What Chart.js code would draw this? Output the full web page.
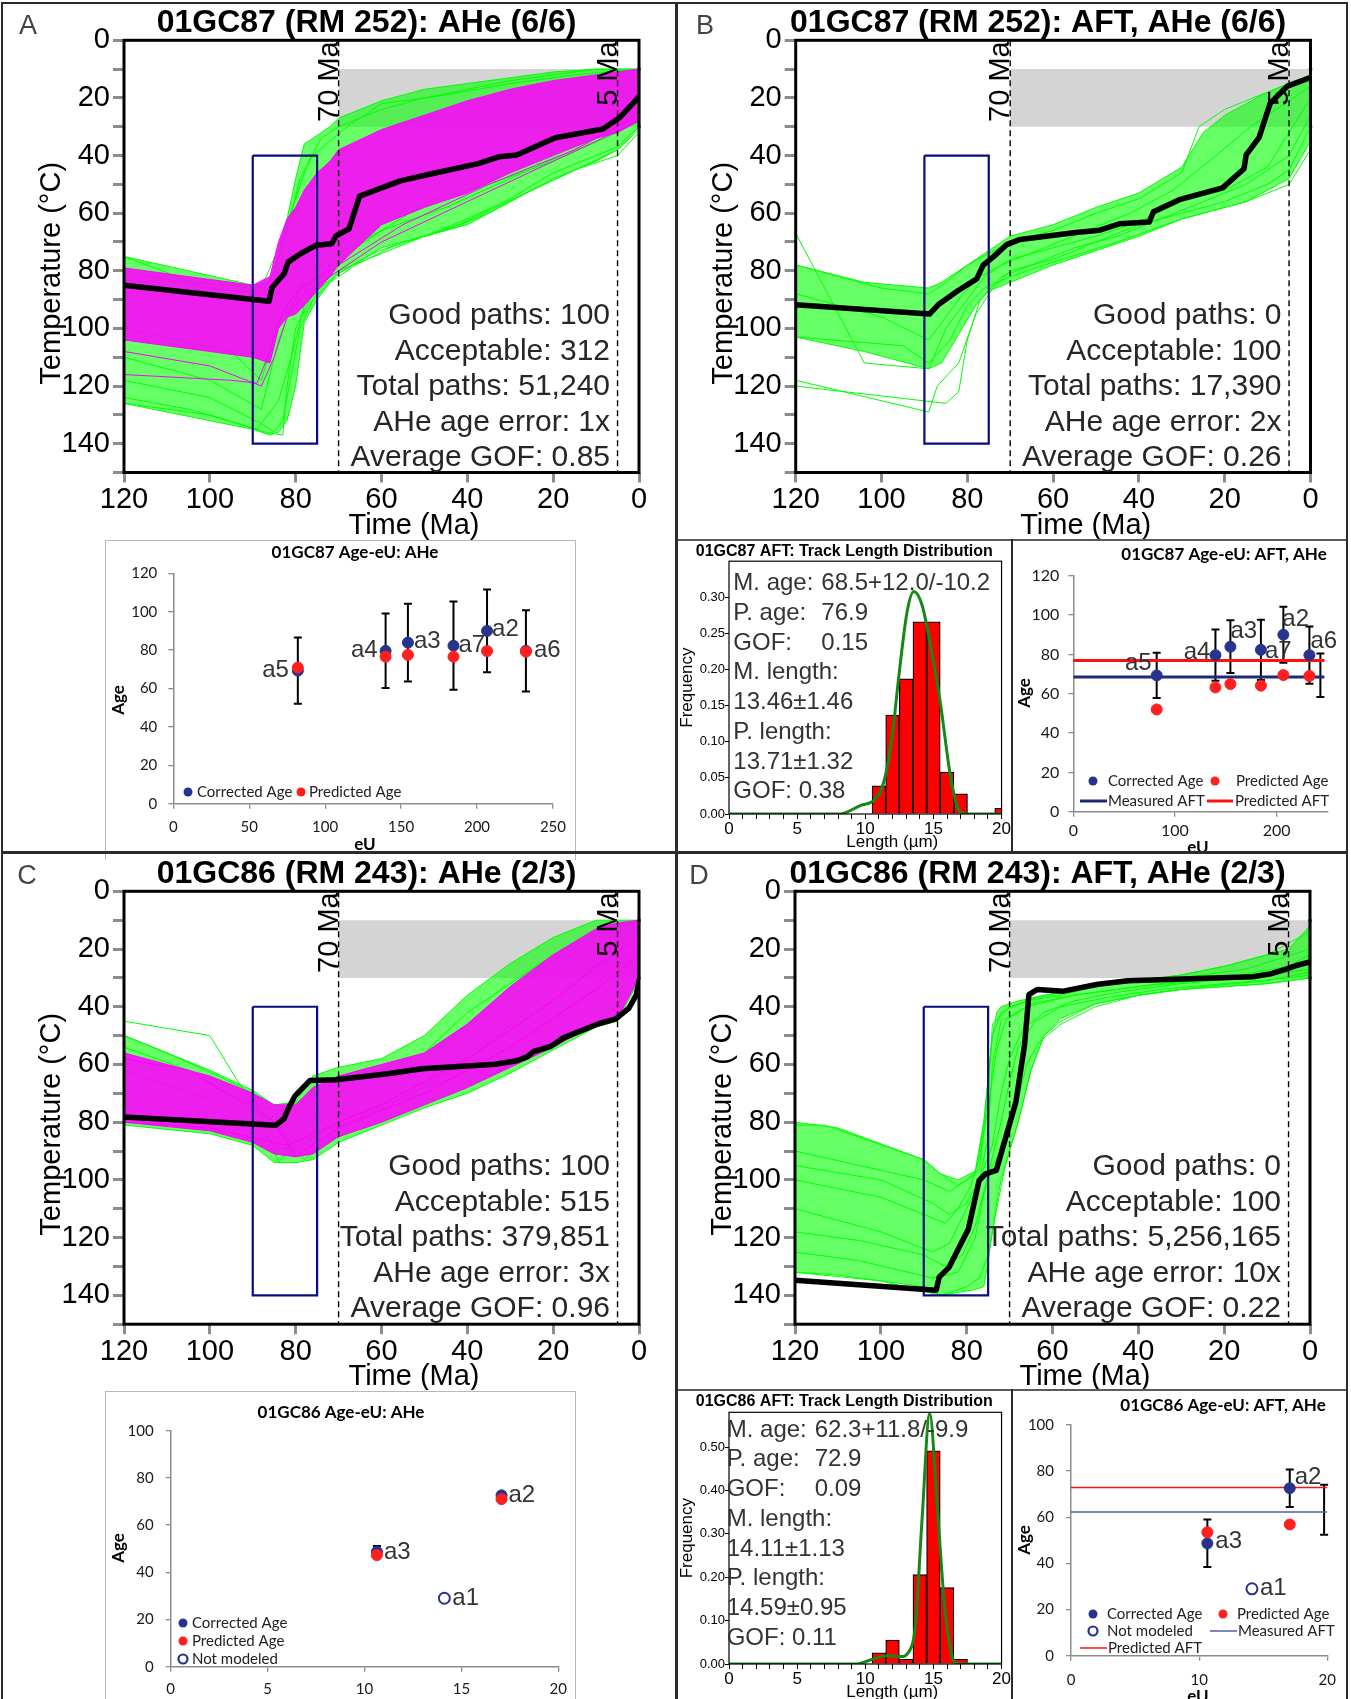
<!DOCTYPE html>
<html>
<head>
<meta charset="utf-8">
<title>01GC87 / 01GC86 thermal histories</title>
<script src="https://cdn.jsdelivr.net/npm/chart.js@4.4.1/dist/chart.umd.min.js"></script>
<style>
  body { margin: 0; background: #fff; }
  #page { position: relative; width: 1351px; height: 1699px; overflow: hidden; background: #fff; }
  canvas { position: absolute; }
  .rule { position: absolute; background: #2b2b2b; }
  .thin { position: absolute; background: #5a5a5a; }
  .frame { position: absolute; border: 1.5px solid #b9b9b9; border-bottom: none; box-sizing: border-box; }
</style>
</head>
<body>
<div id="page">
  <canvas id="tA" width="676" height="541" style="left:0;top:0"></canvas>
  <canvas id="tB" width="668" height="541" style="left:678px;top:0"></canvas>
  <canvas id="tC" width="676" height="536" style="left:0;top:854px"></canvas>
  <canvas id="tD" width="668" height="536" style="left:678px;top:854px"></canvas>
  <canvas id="eA" width="469" height="310" style="left:106px;top:541px"></canvas>
  <canvas id="hB" width="332" height="310" style="left:679px;top:541px"></canvas>
  <canvas id="eB" width="332" height="310" style="left:1014px;top:541px"></canvas>
  <canvas id="eC" width="469" height="307" style="left:106px;top:1392px"></canvas>
  <canvas id="hD" width="332" height="308" style="left:679px;top:1391px"></canvas>
  <canvas id="eD" width="332" height="308" style="left:1014px;top:1391px"></canvas>

  <div class="frame" style="left:105px;top:540px;width:471px;height:320px"></div>
  <div class="frame" style="left:105px;top:1391px;width:471px;height:320px"></div>
  <div class="thin" style="left:678px;top:539px;width:669px;height:1.5px"></div>
  <div class="thin" style="left:678px;top:1389px;width:669px;height:1.5px"></div>
  <div class="rule" style="left:1011px;top:539px;width:2px;height:313px"></div>
  <div class="rule" style="left:1011px;top:1389px;width:2px;height:310px"></div>
  <div class="rule" style="left:1px;top:2px;width:1347px;height:2px"></div>
  <div class="rule" style="left:1px;top:2px;width:2px;height:1697px"></div>
  <div class="rule" style="left:1346px;top:2px;width:2px;height:1697px"></div>
  <div class="rule" style="left:675px;top:2px;width:3px;height:1697px"></div>
  <div class="rule" style="left:1px;top:851px;width:1347px;height:3px"></div>
</div>
<script>
// ---- constraints shared by the four HeFTy runs ----
const boxTime = [90, 75];
const boxTemp = [40, 140];
const constraintTime = [70, 0];
const constraintTemp = [10, 30];
const markerTimes = [70, 5];
const markerLabels = ['70 Ma', '5 Ma'];

// ---- A: 01GC87 AHe (time Ma -> temperature °C) ----
const aTime    = [120, 90, 86, 84, 82, 80, 78, 75, 72, 70, 60, 50, 40, 30, 20, 10, 5, 0];
const aGreenHi = [75, 85, 84, 75, 62, 48, 36, 33, 30, 27, 21, 17, 15, 13, 11, 10, 10, 10];
const aGreenLo = [126, 135, 137, 136, 132, 120, 98, 90, 84, 81, 72, 68, 64, 56, 48, 42, 38, 30];
const aPinkHi  = [79, 85, 82, 70, 62, 58, 52, 46, 42, 38, 31, 26, 21, 17, 14, 12, 11, 10];
const aPinkLo  = [104, 110, 112, 100, 96, 95, 92, 87, 82, 78, 64, 58, 53, 46, 40, 34, 32, 28];
const aBest = [[120, 85], [86.2, 90.6], [85.5, 85.8], [82.7, 81], [81.7, 76.9], [78.7, 73.9], [75.2, 71.1],
  [71.6, 70.6], [70.6, 67.9], [67.6, 65.5], [65.1, 54.1], [55.6, 48.8], [48.6, 46.4], [37.5, 42.8],
  [32.5, 40.4], [28.5, 39.8], [19.5, 33.8], [8.4, 30.8], [4.4, 26.7], [1.4, 21.9], [0, 19.5]];
const aGreenPaths = [
  [[120, 75], [104, 84], [88, 86], [84, 72], [80, 55], [77, 42], [74, 34], [70, 30], [60, 24], [50, 20], [40, 17], [30, 14], [20, 12], [10, 10], [0, 10]],
  [[120, 124], [105, 128], [89, 135], [84, 125], [81, 110], [78, 92], [75, 85], [70, 80], [60, 74], [50, 68], [40, 62], [30, 55], [20, 46], [10, 40], [5, 37], [0, 30]],
  [[120, 126], [100, 130], [87, 136], [83, 137], [82, 120], [80, 100], [76, 88], [70, 81], [62, 74], [55, 70], [45, 66], [35, 60], [25, 52], [15, 45], [5, 40], [0, 32]],
  [[120, 100], [95, 108], [88, 118], [84, 98], [80, 90], [72, 78], [60, 66], [45, 58], [30, 48], [15, 38], [0, 25]],
  [[120, 110], [100, 118], [88, 128], [84, 104], [78, 82], [70, 74], [60, 66], [48, 55], [35, 50], [20, 42], [8, 34], [0, 28]],
  [[120, 80], [100, 86], [88, 88], [85, 80], [82, 66], [79, 48], [76, 40], [72, 35], [68, 30], [60, 22], [45, 19], [30, 15], [15, 12], [0, 10]],
  [[120, 118], [100, 124], [88, 133], [85, 136], [83, 132], [81, 116], [79, 100], [76, 90], [72, 84], [66, 78], [58, 72], [50, 68], [42, 64], [32, 57], [22, 50], [12, 43], [5, 38], [0, 31]]
];
const aPinkPaths = [
  [[120, 108], [100, 113], [88, 120], [85, 110], [82, 96], [78, 88], [72, 82], [60, 70], [40, 56], [20, 42], [0, 28]],
  [[120, 116], [95, 118], [89, 119], [86, 108], [83, 94], [79, 86], [70, 78], [55, 64], [35, 50], [15, 38], [0, 26]]
];
const aStats = ['Good paths: 100', 'Acceptable: 312', 'Total paths: 51,240', 'AHe age error: 1x', 'Average GOF: 0.85'];

// ---- B: 01GC87 AFT + AHe ----
const bTime    = [120, 104, 89, 86, 82, 78, 75, 70, 60, 50, 40, 30, 25, 20, 15, 10, 5, 0];
const bGreenHi = [78, 84, 86, 84, 80, 76, 73, 68, 64, 58, 53, 44, 32, 26, 22, 18, 15, 12];
const bGreenLo = [103, 108, 114, 112, 102, 92, 87, 84, 78, 73, 68, 62, 60, 58, 56, 52, 48, 35];
const bBest = [[120, 91.8], [88.8, 95], [86.8, 91.8], [82.3, 87], [77.8, 82.8], [76.3, 78], [73.8, 75],
  [70.8, 70.9], [67.7, 69.1], [54.7, 66.7], [49.1, 65.9], [44.6, 63.7], [37.6, 63.1], [36.6, 59.5],
  [30.6, 55.3], [20.5, 51.2], [15.5, 44.6], [15, 39.8], [12, 33.8], [9.4, 21.9], [5.4, 15.9], [0, 12.9]];
const bGreenPaths = [
  [[120, 67], [104, 112], [89, 114], [85, 100], [80, 90], [76, 82], [70, 76], [60, 72], [50, 68], [40, 63], [30, 56], [20, 52], [10, 44], [0, 20]],
  [[120, 118], [89, 129], [87, 120], [82, 112], [78, 95], [74, 86], [70, 80], [60, 76], [50, 70], [40, 64], [30, 60], [20, 56], [10, 50], [5, 45], [0, 30]],
  [[120, 120], [85, 126], [82, 122], [80, 104], [77, 90], [72, 82], [65, 78], [55, 72], [45, 68], [35, 62], [25, 56], [15, 50], [5, 40], [0, 26]],
  [[120, 78], [100, 86], [89, 88], [85, 84], [80, 78], [75, 74], [70, 70], [60, 66], [50, 60], [40, 55], [30, 46], [26, 30], [20, 24], [10, 18], [0, 12]],
  [[120, 103], [95, 106], [89, 112], [84, 104], [80, 92], [76, 86], [70, 82], [60, 77], [45, 70], [30, 62], [15, 56], [5, 50], [0, 38]],
  [[120, 88], [100, 96], [89, 104], [85, 96], [81, 88], [77, 82], [72, 78], [62, 72], [52, 66], [42, 60], [32, 52], [22, 40], [14, 30], [6, 22], [0, 16]]
];
const bStats = ['Good paths: 0', 'Acceptable: 100', 'Total paths: 17,390', 'AHe age error: 2x', 'Average GOF: 0.26'];

// ---- C: 01GC86 AHe ----
const cTime    = [120, 100, 90, 85, 80, 76, 70, 60, 50, 40, 30, 20, 10, 5, 0];
const cGreenHi = [50, 62, 69, 74, 73, 64, 61, 58, 50, 36, 25, 16, 10, 10, 10];
const cGreenLo = [81, 84, 88, 94, 94, 93, 87, 81, 75, 70, 63, 55, 47, 45, 31];
const cPinkHi  = [56, 64, 70, 74, 74, 68, 64, 60, 56, 46, 33, 22, 13, 11, 10];
const cPinkLo  = [80, 83, 87, 91, 92, 91, 85, 80, 74, 68, 61, 54, 46, 44, 30];
const cBest = [[120, 78.2], [84.7, 81.1], [82.7, 78.8], [81.5, 74.6], [80.2, 71], [76.7, 65.6], [70.6, 65.3],
  [58.6, 63.2], [50.6, 61.5], [33.5, 59.9], [28.5, 58.7], [26, 57.3], [24.5, 55.5], [20.5, 53.7],
  [17.5, 50.7], [9.4, 45.9], [5.4, 44.2], [2.4, 40.6], [0.6, 35.8], [0, 31]];
const cGreenPaths = [
  [[120, 45], [100, 50], [93, 67], [88, 75], [83, 76], [76, 70], [70, 66], [60, 62], [50, 56], [40, 42], [30, 32], [20, 22], [10, 15], [0, 10]],
  [[120, 54], [105, 62], [92, 74], [85, 80], [78, 93], [72, 86], [60, 80], [50, 74], [40, 68], [30, 60], [20, 52], [10, 46], [0, 32]],
  [[120, 50], [110, 56], [98, 64], [90, 70], [84, 94], [80, 86], [76, 78], [70, 72], [60, 66], [50, 58], [40, 46], [30, 34], [20, 24], [10, 16], [0, 12]],
  [[120, 62], [100, 72], [90, 80], [85, 88], [80, 90], [75, 84], [68, 80], [58, 74], [48, 66], [38, 56], [28, 44], [18, 30], [8, 20], [0, 14]]
];
const cPinkPaths = [
  [[120, 58], [105, 62], [96, 70], [90, 74], [85, 80], [80, 92], [76, 88], [70, 82], [60, 76], [50, 70], [40, 62], [30, 54], [20, 44], [10, 34], [0, 22]],
  [[120, 80], [100, 82], [88, 86], [82, 88], [76, 84], [70, 80], [60, 74], [50, 66], [40, 58], [30, 48], [20, 38], [10, 26], [0, 16]]
];
const cStats = ['Good paths: 100', 'Acceptable: 515', 'Total paths: 379,851', 'AHe age error: 3x', 'Average GOF: 0.96'];

// ---- D: 01GC86 AFT + AHe ----
const dTime    = [120, 110, 90, 86, 82, 78, 76, 75, 74, 73, 72, 70, 68, 65, 62, 58, 50, 40, 30, 20, 10, 5, 0];
const dGreenHi = [80, 82, 93, 98, 100, 97, 80, 65, 50, 42, 40, 39, 38, 37, 36, 35, 33, 31, 29, 26, 22, 20, 12];
const dGreenLo = [132, 133, 137, 140, 139, 138, 137, 128, 118, 108, 100, 90, 80, 62, 50, 44, 39, 36, 34, 33, 32, 31, 30];
const dBest = [[120, 134.8], [87.1, 138.2], [86.4, 133.7], [84.1, 130.3], [79.6, 117], [77.1, 100.2], [75.6, 97.9],
  [73.1, 96.7], [68.5, 72.8], [66.5, 53.1], [65.5, 35.8], [63.5, 34], [57.5, 34.6], [49.4, 32.2], [42.4, 31],
  [13.3, 29.6], [9.2, 28.6], [5.2, 26.8], [3.2, 25.7], [0, 24.5]];
const dGreenPaths = [
  [[120, 81], [113, 81], [90, 93], [86, 98], [82, 102], [78, 98], [76, 80], [74, 50], [72, 42], [66, 38], [58, 36], [50, 33], [40, 31], [30, 29], [20, 26], [10, 22], [0, 14]],
  [[120, 132], [100, 135], [86, 140], [80, 137], [77, 134], [75, 126], [73, 110], [71, 95], [68, 80], [65, 62], [62, 50], [58, 45], [50, 39], [40, 36], [30, 34], [20, 33], [10, 32], [0, 30]],
  [[120, 90], [105, 95], [90, 100], [84, 104], [80, 100], [77, 96], [75, 70], [74, 46], [70, 40], [64, 37], [55, 34], [45, 32], [30, 30], [15, 27], [0, 20]],
  [[120, 110], [100, 118], [88, 125], [84, 122], [80, 110], [78, 104], [76, 96], [74, 88], [72, 70], [70, 58], [67, 48], [62, 42], [55, 38], [45, 35], [30, 32], [15, 30], [0, 27]],
  [[120, 125], [105, 128], [88, 134], [82, 132], [78, 120], [76, 105], [74, 95], [72, 90], [70, 82], [68, 72], [66, 60], [63, 52], [58, 46], [50, 40], [40, 36], [25, 33], [10, 31], [0, 28]],
  [[120, 100], [100, 106], [90, 112], [85, 115], [82, 110], [79, 102], [77, 92], [75, 75], [73, 55], [71, 45], [65, 39], [55, 36], [45, 34], [35, 32], [20, 30], [5, 26], [0, 22]],
  [[120, 95], [100, 100], [88, 108], [84, 112], [80, 108], [77, 100], [75, 85], [74, 60], [72, 45], [66, 40], [55, 36], [40, 33], [25, 31], [10, 29], [0, 25]],
  [[120, 118], [105, 121], [90, 126], [85, 130], [81, 126], [78, 116], [76, 104], [74, 92], [72, 80], [70, 66], [68, 54], [64, 45], [58, 40], [48, 37], [35, 34], [20, 32], [5, 30], [0, 29]]
];
const dStats = ['Good paths: 0', 'Acceptable: 100', 'Total paths: 5,256,165', 'AHe age error: 10x', 'Average GOF: 0.22'];

// ---- Age-eU data ----
const gc87Labels = ['a5', 'a4', 'a3', 'a7', 'a2', 'a6'];
const gc87EU = [82, 139.8, 154.5, 184.5, 206.6, 232.2];
const gc87Corrected = [69.3, 79.6, 83.9, 82.3, 90, 79.6];
const gc87PredAHe = [70.9, 76.6, 77.5, 76.6, 79.5, 79.2];
const gc87ErrAHe = [17.2, 19.4, 20.2, 23, 21.5, 21.2];
const gc87PredJoint = [52, 63.2, 64.9, 64.1, 69.5, 69];
const gc87ErrJoint = [11.5, 13, 13.4, 15.3, 14.2, 14.6];
const gc87Aft = { measured: 68.5, plus: 12.0, minus: 10.2, predicted: 76.9, eU: 243, span: [0, 247] };

const gc86Labels = ['a2', 'a3'];
const gc86EU = [17.07, 10.64];
const gc86Corrected = [72.6, 48.7];
const gc86PredAHe = [71, 47.3];
const gc86ErrAHe = [1.3, 2.4];
const gc86PredJoint = [56.9, 53.5];
const gc86ErrJoint = [8.1, 10.3];
const gc86NotModeled = { label: 'a1', eU: 14.12, age: 29 };
const gc86Aft = { measured: 62.3, plus: 11.8, minus: 9.9, predicted: 72.9, eU: 19.75, span: [0, 20] };

// ---- track length distributions ----
const bLenBins = [11, 12, 13, 14, 15, 16, 17, 20];
const bLenFreq = [0.039, 0.137, 0.187, 0.266, 0.266, 0.058, 0.028, 0.008];
const bPredLen = [0, 8.2, 8.7, 9.67, 10.64, 11.37, 11.98, 12.47, 13.07, 13.56, 14.17, 14.78, 15.5, 16.24, 16.84, 17.45, 20];
const bPredFreq = [0, 0, 0.003, 0.012, 0.019, 0.045, 0.109, 0.192, 0.28, 0.308, 0.289, 0.234, 0.155, 0.054, 0.006, 0, 0];
const bLenStats = { pAge: '76.9', gofAge: '0.15', mLen: '13.46±1.46', pLen: '13.71±1.32', gofLen: '0.38' };

const dLenBins = [11, 12, 13, 14, 15, 16, 17];
const dLenFreq = [0.026, 0.055, 0.011, 0.206, 0.491, 0.176, 0.011];
const dPredLen = [0, 9.3, 10.16, 11.13, 11.86, 12.59, 13.2, 13.68, 14.17, 14.73, 15.26, 15.8, 16.35, 16.84, 20];
const dPredFreq = [0, 0, 0.007, 0.017, 0.019, 0.017, 0.028, 0.09, 0.335, 0.577, 0.373, 0.143, 0.021, 0, 0];
const dLenStats = { pAge: '72.9', gofAge: '0.09', mLen: '14.11±1.13', pLen: '14.59±0.95', gofLen: '0.11' };

// ---- styling ----
const SANS = '"Liberation Sans", Arial, Helvetica, sans-serif';
const EXCEL = 'Lato, "Open Sans", sans-serif';
const GREEN = '#00ff00';
const MAGENTA = '#ff00ff';
const NAVY = '#27348b';
const RED = '#ff1f1f';

Chart.defaults.font.family = SANS;
Chart.defaults.color = '#000';
Chart.defaults.animation = false;
Chart.defaults.plugins.legend.display = false;
Chart.defaults.plugins.tooltip.enabled = false;

function text(ctx, s, x, y, font, color, align, base, rot) {
  ctx.save();
  ctx.translate(x, y);
  if (rot) ctx.rotate(rot);
  ctx.font = font;
  ctx.fillStyle = color || '#000';
  ctx.textAlign = align || 'left';
  ctx.textBaseline = base || 'alphabetic';
  ctx.fillText(s, 0, 0);
  ctx.restore();
}

// padding so the chart area lands where it is in the figure
function pad(cv, area, yW, xH) {
  return { left: area.l - yW, top: area.t, right: cv.width - area.r, bottom: cv.height - area.b - xH };
}

function thermalChart(id, area, h) {
  const cv = document.getElementById(id);
  const ds = [];
  const add = d => { ds.push(Object.assign({ pointRadius: 0, borderWidth: 1, fill: false, tension: 0 }, d)); return ds.length - 1; };
  const path = pairs => pairs.map(p => ({ x: p[0], y: p[1] }));
  const band = vals => h.time.map((t, i) => ({ x: t, y: vals[i] })).reverse();

  add({ data: path(h.best), borderColor: '#000', borderWidth: 5.5, borderJoinStyle: 'round', borderCapStyle: 'round', order: 0 });
  const [t0, t1] = boxTime, [T0, T1] = boxTemp;
  add({ data: path([[t0, T0], [t1, T0], [t1, T1], [t0, T1], [t0, T0]]), borderColor: '#0b0b82', borderWidth: 2.2, order: 1 });
  markerTimes.forEach(t => add({ data: path([[t, 0], [t, 150]]), borderColor: '#000', borderWidth: 1.4, borderDash: [6, 4], order: 2 }));
  add({ data: path([[0, constraintTemp[0]], [0, constraintTemp[1]]]), borderColor: '#1d8a1d', borderWidth: 2.5,
        pointRadius: 2, pointBackgroundColor: '#1d8a1d', pointBorderWidth: 0, clip: false, order: 2 });
  if (h.pinkHi) {
    h.pinkPaths.forEach(p => add({ data: path(p), borderColor: MAGENTA, order: 3 }));
    const lo = add({ data: band(h.pinkLo), borderColor: MAGENTA, order: 4 });
    add({ data: band(h.pinkHi), borderColor: MAGENTA, backgroundColor: 'rgba(255,0,255,0.88)', fill: lo, order: 4 });
  }
  h.greenPaths.forEach(p => add({ data: path(p), borderColor: GREEN, order: 5 }));
  const glo = add({ data: band(h.greenLo), borderColor: GREEN, order: 6 });
  add({ data: band(h.greenHi), borderColor: GREEN, backgroundColor: 'rgba(0,255,0,0.6)', fill: glo, order: 6 });
  add({ data: path([[constraintTime[0], constraintTemp[0]], [constraintTime[1], constraintTemp[0]]]), borderWidth: 0,
        backgroundColor: '#d4d4d4', fill: { value: constraintTemp[1] }, order: 9 });

  const deco = {
    id: 'thermalDeco',
    afterDatasetsDraw(chart) {
      const { ctx, chartArea: a, scales: { x } } = chart;
      ctx.save();
      ctx.lineWidth = 3; ctx.strokeStyle = '#000';
      ctx.strokeRect(a.left, a.top, a.right - a.left, a.bottom - a.top);
      ctx.restore();
      markerTimes.forEach((t, i) => text(ctx, markerLabels[i], x.getPixelForValue(t) - 1, a.top + 1, '29px ' + SANS, '#000', 'right', 'alphabetic', -Math.PI / 2));
      text(ctx, h.title, (a.left + a.right) / 2 - 15, a.top - 8, 'bold 32px ' + SANS, '#000', 'center');
      text(ctx, h.letter, h.letterX, h.letterY, '27px ' + SANS, '#444', 'center');
      text(ctx, 'Temperature (°C)', a.left - 72, a.top + 233, '29px ' + SANS, '#000', 'center', 'middle', -Math.PI / 2);
      text(ctx, 'Time (Ma)', a.left + 290, a.bottom + 61, '29px ' + SANS, '#000', 'center');
      h.stats.forEach((s, i) => text(ctx, s, a.right - 29, a.top + 284 + 35.5 * i, '30px ' + SANS, '#262626', 'right'));
    }
  };

  return new Chart(cv, {
    type: 'line',
    data: { datasets: ds },
    plugins: [deco],
    options: {
      responsive: false,
      layout: { padding: pad(cv, area, 100, 60) },
      scales: {
        x: {
          type: 'linear', reverse: true, min: 0, max: 120,
          ticks: { stepSize: 20, autoSkip: false, maxRotation: 0, padding: 0, font: { size: 29 }, color: '#000' },
          grid: { drawOnChartArea: false, tickLength: 10, color: '#8c8c8c', lineWidth: 3 },
          border: { display: false },
          afterFit: s => { s.height = 60; }
        },
        y: {
          type: 'linear', reverse: true, min: 0, max: 150,
          ticks: { stepSize: 10, autoSkip: false, padding: 3, font: { size: 29 }, color: '#000', callback: v => (v % 20 === 0 ? v : '') },
          grid: { drawOnChartArea: false, tickLength: 11, color: '#8c8c8c', lineWidth: 3 },
          border: { display: false },
          afterFit: s => { s.width = 100; }
        }
      }
    }
  });
}

function ageChart(id, area, s) {
  const cv = document.getElementById(id);
  const xy = (xs, ys) => xs.map((v, i) => ({ x: v, y: ys[i] }));
  const ds = [
    { data: xy(s.eU, s.predicted), backgroundColor: RED, borderColor: RED, pointRadius: 5.5, order: 0 },
    { data: xy(s.eU, s.corrected), backgroundColor: NAVY, borderColor: NAVY, pointRadius: 5.5, order: 1 }
  ];
  if (s.nm) ds.push({ data: [{ x: s.nm.eU, y: s.nm.age }], backgroundColor: '#fff', borderColor: NAVY, borderWidth: 2, pointRadius: 5.5, order: 1 });
  if (s.aft) {
    ds.push({ data: xy(s.aft.span, [s.aft.measured, s.aft.measured]), showLine: true, borderColor: s.aftNavy, borderWidth: s.aftWidth, pointRadius: 0, order: 3 });
    ds.push({ data: xy(s.aft.span, [s.aft.predicted, s.aft.predicted]), showLine: true, borderColor: '#ff1010', borderWidth: s.aftWidth, pointRadius: 0, order: 2 });
  }

  const bar = (ctx, xs, ys, x, lo, hi) => {
    const px = xs.getPixelForValue(x), p1 = ys.getPixelForValue(hi), p2 = ys.getPixelForValue(lo);
    ctx.beginPath();
    ctx.moveTo(px, p1); ctx.lineTo(px, p2);
    ctx.moveTo(px - 4, p1); ctx.lineTo(px + 4, p1);
    ctx.moveTo(px - 4, p2); ctx.lineTo(px + 4, p2);
    ctx.stroke();
  };

  const deco = {
    id: 'ageDeco',
    beforeDatasetsDraw(chart) {
      const { ctx, scales: { x, y } } = chart;
      ctx.save();
      ctx.strokeStyle = '#000'; ctx.lineWidth = 2;
      s.eU.forEach((e, i) => bar(ctx, x, y, e, s.corrected[i] - s.err[i], s.corrected[i] + s.err[i]));
      if (s.aft) bar(ctx, x, y, s.aft.eU, s.aft.measured - s.aft.minus, s.aft.measured + s.aft.plus);
      ctx.restore();
    },
    afterDatasetsDraw(chart) {
      const { ctx, scales: { x, y } } = chart;
      s.labels.forEach((lb, i) => {
        const o = s.labelPos[i];
        text(ctx, lb, x.getPixelForValue(s.eU[i]) + o[0], y.getPixelForValue(s.corrected[i]) + o[1], '24px ' + SANS, '#333', o[2], 'middle');
      });
      if (s.nm) text(ctx, s.nm.label, x.getPixelForValue(s.nm.eU) + 8, y.getPixelForValue(s.nm.age), '24px ' + SANS, '#333', 'left', 'middle');
      text(ctx, s.title, s.titlePos[0], s.titlePos[1], 'bold 17px ' + EXCEL, '#000', 'center');
      text(ctx, 'Age', s.agePos[0], s.agePos[1], 'bold 17px ' + EXCEL, '#000', 'center', 'middle', -Math.PI / 2);
      if (s.eUPos) text(ctx, 'eU', s.eUPos[0], s.eUPos[1], 'bold 17px ' + EXCEL, '#000', 'center', 'middle');
      s.legend.forEach(it => {
        ctx.save();
        if (it.kind === 'line') {
          ctx.strokeStyle = it.color; ctx.lineWidth = it.width;
          ctx.beginPath(); ctx.moveTo(it.x, it.y); ctx.lineTo(it.x2, it.y); ctx.stroke();
        } else {
          ctx.beginPath(); ctx.arc(it.x, it.y, 4.5, 0, Math.PI * 2);
          if (it.kind === 'ring') { ctx.fillStyle = '#fff'; ctx.fill(); ctx.strokeStyle = it.color; ctx.lineWidth = 2.2; ctx.stroke(); }
          else { ctx.fillStyle = it.color; ctx.fill(); }
        }
        ctx.restore();
        text(ctx, it.text, it.tx, it.y, '15px ' + EXCEL, '#222', 'left', 'middle');
      });
    }
  };

  const onStep = step => sc => { sc.ticks = sc.ticks.filter(t => Math.abs(t.value / step - Math.round(t.value / step)) < 1e-6); };
  return new Chart(cv, {
    type: 'scatter',
    data: { datasets: ds },
    plugins: [deco],
    options: {
      responsive: false,
      layout: { padding: pad(cv, area, 50, 30) },
      scales: {
        x: {
          type: 'linear', min: 0, max: s.xMax,
          ticks: { stepSize: s.xStep, maxRotation: 0, padding: s.xPad, font: { family: EXCEL, size: s.tick }, color: '#1a1a1a' },
          grid: { drawOnChartArea: false, tickLength: 5, color: '#8c8c8c', lineWidth: 1.3 },
          border: { color: '#8c8c8c', width: 1.5 },
          afterBuildTicks: onStep(s.xStep),
          afterFit: sc => { sc.height = 30; }
        },
        y: {
          type: 'linear', min: 0, max: s.yMax,
          ticks: { stepSize: 20, padding: s.yPad, font: { family: EXCEL, size: s.tick }, color: '#1a1a1a' },
          grid: { drawOnChartArea: false, tickLength: 5, color: '#8c8c8c', lineWidth: 1.3 },
          border: { color: '#8c8c8c', width: 1.5 },
          afterFit: sc => { sc.width = 50; }
        }
      }
    }
  });
}

function lengthChart(id, area, s) {
  const cv = document.getElementById(id);
  const xy = (xs, ys) => xs.map((v, i) => ({ x: v, y: ys[i] }));
  const a = s.aft;
  const lines = [
    ['M. age:', a.measured + '+' + a.plus.toFixed(1) + '/-' + a.minus],
    ['P. age:', s.stats.pAge],
    ['GOF:', s.stats.gofAge],
    ['M. length:'], [s.stats.mLen],
    ['P. length:'], [s.stats.pLen],
    ['GOF: ' + s.stats.gofLen]
  ];
  const deco = {
    id: 'lenDeco',
    afterDatasetsDraw(chart) {
      const { ctx, chartArea: r } = chart;
      ctx.save();
      ctx.strokeStyle = '#000'; ctx.lineWidth = 1.2;
      ctx.strokeRect(r.left, r.top, r.right - r.left, r.bottom - r.top);
      ctx.restore();
      lines.forEach((ln, i) => {
        const yy = r.top + s.textTop + 29.75 * i;
        text(ctx, ln[0], r.left + s.textLeft, yy, '24px ' + SANS, '#333');
        if (ln[1]) text(ctx, ln[1], r.left + s.textLeft + 88, yy, '24px ' + SANS, '#333');
      });
      text(ctx, s.title, (r.left + r.right) / 2 - 21, 14.7, 'bold 16px ' + SANS, '#000', 'center');
      text(ctx, 'Frequency', 8, (r.top + r.bottom) / 2, '17px ' + SANS, '#000', 'center', 'middle', -Math.PI / 2);
      text(ctx, 'Length (µm)', (r.left + r.right) / 2 + 27, r.bottom + 33, '17px ' + SANS, '#000', 'center');
    }
  };
  return new Chart(cv, {
    type: 'bar',
    data: {
      datasets: [
        { type: 'line', data: xy(s.predLen, s.predFreq), borderColor: '#178717', borderWidth: 3, pointRadius: 0, cubicInterpolationMode: 'monotone', order: 0 },
        { type: 'bar', data: xy(s.bins, s.freq), backgroundColor: '#ff0000', borderColor: '#000', borderWidth: 1.2, barPercentage: 1, categoryPercentage: 1, order: 1 }
      ]
    },
    plugins: [deco],
    options: {
      responsive: false,
      layout: { padding: pad(cv, area, 45, 30) },
      scales: {
        x: {
          type: 'linear', min: 0, max: 20, offset: false,
          ticks: { stepSize: 1, autoSkip: false, maxRotation: 0, padding: 0, font: { size: 17 }, color: '#000', callback: v => (v % 5 === 0 ? v : '') },
          grid: { offset: false, drawOnChartArea: false, tickLength: 5, color: '#000', lineWidth: 1 },
          border: { display: false },
          afterFit: sc => { sc.height = 30; }
        },
        y: {
          type: 'linear', min: 0, max: s.yMax,
          ticks: { stepSize: s.yStep, padding: 0, font: { size: 13 }, color: '#000', callback: v => v.toFixed(2) },
          grid: { drawOnChartArea: false, tickLength: 4, color: '#000', lineWidth: 1 },
          border: { display: false },
          afterBuildTicks: sc => { sc.ticks = sc.ticks.filter(t => t.value <= s.yTop + 1e-6); },
          afterFit: sc => { sc.width = 45; }
        }
      }
    }
  });
}

// ---- top row thermal histories ----
thermalChart('tA', { l: 124, r: 639, t: 40.3, b: 472.5 }, {
  title: '01GC87 (RM 252): AHe (6/6)', letter: 'A', letterX: 28, letterY: 34,
  time: aTime, greenHi: aGreenHi, greenLo: aGreenLo, pinkHi: aPinkHi, pinkLo: aPinkLo,
  best: aBest, greenPaths: aGreenPaths, pinkPaths: aPinkPaths, stats: aStats
});
thermalChart('tB', { l: 117.7, r: 632.5, t: 40.3, b: 472.5 }, {
  title: '01GC87 (RM 252): AFT, AHe (6/6)', letter: 'B', letterX: 27, letterY: 34,
  time: bTime, greenHi: bGreenHi, greenLo: bGreenLo,
  best: bBest, greenPaths: bGreenPaths, stats: bStats
});
thermalChart('tC', { l: 124, r: 639, t: 37.3, b: 470.2 }, {
  title: '01GC86 (RM 243): AHe (2/3)', letter: 'C', letterX: 27, letterY: 30,
  time: cTime, greenHi: cGreenHi, greenLo: cGreenLo, pinkHi: cPinkHi, pinkLo: cPinkLo,
  best: cBest, greenPaths: cGreenPaths, pinkPaths: cPinkPaths, stats: cStats
});
thermalChart('tD', { l: 117, r: 632, t: 37.3, b: 470.2 }, {
  title: '01GC86 (RM 243): AFT, AHe (2/3)', letter: 'D', letterX: 21, letterY: 30,
  time: dTime, greenHi: dGreenHi, greenLo: dGreenLo,
  best: dBest, greenPaths: dGreenPaths, stats: dStats
});

// ---- age-eU plots ----
ageChart('eA', { l: 67.3, r: 451.3, t: 32.3, b: 262.7 }, {
  title: '01GC87 Age-eU: AHe', titlePos: [249, 17], agePos: [13, 159], eUPos: [259, 304],
  xMax: 250, xStep: 50, yMax: 120, tick: 15, xPad: 9, yPad: 11,
  eU: gc87EU, corrected: gc87Corrected, predicted: gc87PredAHe, err: gc87ErrAHe, labels: gc87Labels,
  labelPos: [[-9, 0, 'right'], [-8, 0, 'right'], [6, -1, 'left'], [5, 0, 'left'], [5, -2, 'left'], [8, 0, 'left']],
  legend: [
    { kind: 'dot', color: NAVY, x: 82, y: 251, tx: 91, text: 'Corrected Age' },
    { kind: 'dot', color: RED, x: 195, y: 251, tx: 203, text: 'Predicted Age' }
  ]
});
ageChart('eB', { l: 59.3, r: 313.5, t: 34.7, b: 270.7 }, {
  title: '01GC87 Age-eU: AFT, AHe', titlePos: [210, 19], agePos: [11, 152], eUPos: [184, 307],
  xMax: 250, xStep: 100, yMax: 120, tick: 16, xPad: 5, yPad: 9,
  eU: gc87EU, corrected: gc87Corrected, predicted: gc87PredJoint, err: gc87ErrJoint, labels: gc87Labels,
  labelPos: [[-5, -12, 'right'], [-5, -3, 'right'], [0, -15, 'left'], [4, 2, 'left'], [-1, -15, 'left'], [1, -14, 'left']],
  aft: gc87Aft, aftNavy: '#1d2a78', aftWidth: 3,
  legend: [
    { kind: 'dot', color: NAVY, x: 79, y: 240, tx: 94, text: 'Corrected Age' },
    { kind: 'dot', color: RED, x: 201, y: 240, tx: 222, text: 'Predicted Age' },
    { kind: 'line', color: '#1d2a78', width: 3, x: 66, x2: 93, y: 260, tx: 94, text: 'Measured AFT' },
    { kind: 'line', color: '#ff1010', width: 3, x: 193, x2: 219, y: 260, tx: 221, text: 'Predicted AFT' }
  ]
});
ageChart('eC', { l: 64.7, r: 455.7, t: 38.7, b: 274.7 }, {
  title: '01GC86 Age-eU: AHe', titlePos: [235, 26], agePos: [13, 156],
  xMax: 20, xStep: 5, yMax: 100, tick: 15, xPad: 8, yPad: 12,
  eU: gc86EU, corrected: gc86Corrected, predicted: gc86PredAHe, err: gc86ErrAHe, labels: gc86Labels,
  labelPos: [[7, 0, 'left'], [7, 1, 'left']], nm: gc86NotModeled,
  legend: [
    { kind: 'dot', color: NAVY, x: 77, y: 231, tx: 86, text: 'Corrected Age' },
    { kind: 'dot', color: RED, x: 77, y: 249, tx: 86, text: 'Predicted Age' },
    { kind: 'ring', color: NAVY, x: 77, y: 267, tx: 86, text: 'Not modeled' }
  ]
});
ageChart('eD', { l: 57, r: 317.7, t: 34, b: 264.7 }, {
  title: '01GC86 Age-eU: AFT, AHe', titlePos: [209, 20], agePos: [11, 149], eUPos: [184, 306],
  xMax: 20, xStep: 10, yMax: 100, tick: 15, xPad: 10, yPad: 12,
  eU: gc86EU, corrected: gc86Corrected, predicted: gc86PredJoint, err: gc86ErrJoint, labels: gc86Labels,
  labelPos: [[5, -11, 'left'], [8, -2, 'left']], nm: gc86NotModeled,
  aft: gc86Aft, aftNavy: '#5060a0', aftWidth: 1.5,
  legend: [
    { kind: 'dot', color: NAVY, x: 79, y: 223, tx: 93, text: 'Corrected Age' },
    { kind: 'dot', color: RED, x: 209, y: 223, tx: 223, text: 'Predicted Age' },
    { kind: 'ring', color: NAVY, x: 79, y: 240, tx: 93, text: 'Not modeled' },
    { kind: 'line', color: '#5060a0', width: 1.5, x: 196, x2: 223, y: 240, tx: 224, text: 'Measured AFT' },
    { kind: 'line', color: '#ff1010', width: 1.5, x: 66, x2: 93, y: 257, tx: 94, text: 'Predicted AFT' }
  ]
});

// ---- track length histograms ----
lengthChart('hB', { l: 50, r: 324.3, t: 20.2, b: 273 }, {
  title: '01GC87 AFT: Track Length Distribution', yMax: 0.35, yStep: 0.05, yTop: 0.3,
  bins: bLenBins, freq: bLenFreq, predLen: bPredLen, predFreq: bPredFreq,
  aft: gc87Aft, stats: bLenStats, textLeft: 4.3, textTop: 28.8
});
lengthChart('hD', { l: 50, r: 324.3, t: 21.3, b: 273 }, {
  title: '01GC86 AFT: Track Length Distribution', yMax: 0.58, yStep: 0.1, yTop: 0.5,
  bins: dLenBins, freq: dLenFreq, predLen: dPredLen, predFreq: dPredFreq,
  aft: gc86Aft, stats: dLenStats, textLeft: -2.3, textTop: 24.4
});
</script>
</body>
</html>
